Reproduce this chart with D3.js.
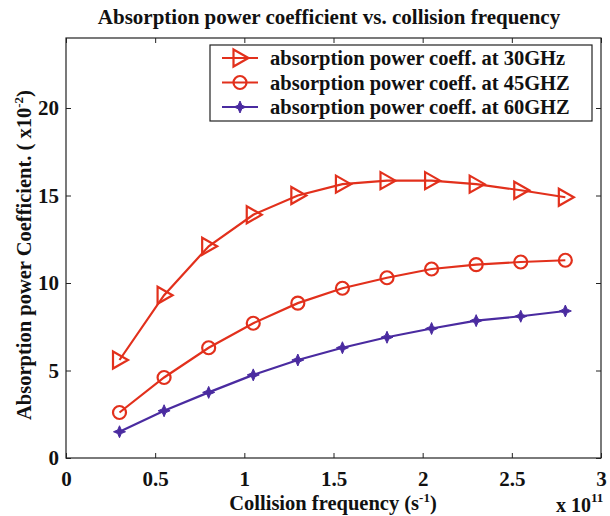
<!DOCTYPE html>
<html>
<head>
<meta charset="utf-8">
<script src="https://cdn.jsdelivr.net/npm/d3@7"></script>
<style>
  body { margin: 0; background: #fff; }
  svg text { font-family: "Liberation Serif", "Times New Roman", serif; font-weight: bold; fill: #111; }
</style>
</head>
<body>
<div id="chart"></div>
<script>
// collision frequency (x 10^11 s^-1)
const freq = [0.3, 0.55, 0.8, 1.05, 1.3, 1.55, 1.8, 2.05, 2.3, 2.55, 2.8];
// absorption power coefficient (x 10^-2)
const coeff30 = [5.6, 9.3, 12.1, 13.9, 15.0, 15.65, 15.85, 15.85, 15.65, 15.3, 14.9];
const coeff45 = [2.6, 4.6, 6.3, 7.7, 8.85, 9.7, 10.3, 10.8, 11.05, 11.2, 11.3];
const coeff60 = [1.5, 2.7, 3.75, 4.75, 5.6, 6.3, 6.9, 7.4, 7.85, 8.1, 8.4];
const seriesNames = ["absorption power coeff. at 30GHz", "absorption power coeff. at 45GHZ", "absorption power coeff. at 60GHZ"];
const xTicks = [0, 0.5, 1, 1.5, 2, 2.5, 3];
const yTicks = [0, 5, 10, 15, 20];

const red = "#e2301c", purple = "#4a2ba0";
const series = [
  { name: seriesNames[0], values: coeff30, color: red, marker: "tri" },
  { name: seriesNames[1], values: coeff45, color: red, marker: "circle" },
  { name: seriesNames[2], values: coeff60, color: purple, marker: "star" }
];

const W = 610, H = 516;
const margin = { top: 38, right: 9, bottom: 58, left: 66 };
const width = W - margin.left - margin.right;
const height = H - margin.top - margin.bottom;

const svg = d3.select("#chart").append("svg").attr("width", W).attr("height", H);
const g = svg.append("g").attr("transform", `translate(${margin.left},${margin.top})`);

const x = d3.scaleLinear().domain([0, 3]).range([0, width]);
const y = d3.scaleLinear().domain([0, 24]).range([height, 0]);

// frame
g.append("rect").attr("width", width).attr("height", height)
  .attr("fill", "none").attr("stroke", "#222").attr("stroke-width", 1.2);

// axes (ticks inward, MATLAB style)
const fmtX = d => d === 0 ? "0" : String(d);
g.append("g").attr("transform", `translate(0,${height})`)
  .call(d3.axisBottom(x).tickValues(xTicks).tickSize(-5).tickPadding(13).tickFormat(fmtX))
  .call(a => a.select(".domain").remove());
g.append("g")
  .call(d3.axisTop(x).tickValues(xTicks).tickSize(-5).tickFormat(""))
  .call(a => a.select(".domain").remove());
g.append("g")
  .call(d3.axisLeft(y).tickValues(yTicks).tickSize(-5).tickPadding(7))
  .call(a => a.select(".domain").remove());
g.append("g").attr("transform", `translate(${width},0)`)
  .call(d3.axisRight(y).tickValues(yTicks).tickSize(-5).tickFormat(""))
  .call(a => a.select(".domain").remove());
g.selectAll(".tick line").attr("stroke", "#222");
g.selectAll(".tick text").style("font-size", "21px").attr("fill", "#111")
  .style("font-family", "'Liberation Serif', serif").style("font-weight", "bold");

// lines
const line = d3.line().x((d, i) => x(freq[i])).y(d => y(d));

function drawMarker(sel, type, color) {
  if (type === "tri") {
    sel.append("path").attr("d", "M-6.5,-8.5 L8.5,0 L-6.5,8.5 Z")
      .attr("fill", "none").attr("stroke", color).attr("stroke-width", 2.2);
  } else if (type === "circle") {
    sel.append("circle").attr("r", 6.5)
      .attr("fill", "none").attr("stroke", color).attr("stroke-width", 2.2);
  } else {
    sel.append("path").attr("d", "M0,-6 L1.8,-1.8 L6,0 L1.8,1.8 L0,6 L-1.8,1.8 L-6,0 L-1.8,-1.8 Z")
      .attr("fill", color).attr("stroke", color).attr("stroke-width", 1);
  }
}

series.forEach(s => {
  g.append("path").datum(s.values)
    .attr("d", line).attr("fill", "none")
    .attr("stroke", s.color).attr("stroke-width", 2.2);
  g.selectAll(null).data(s.values).join("g")
    .attr("transform", (d, i) => `translate(${x(freq[i])},${y(d)})`)
    .each(function () { drawMarker(d3.select(this), s.marker, s.color); });
});

// legend
const lg = svg.append("g").attr("transform", "translate(210,45)");
lg.append("rect").attr("width", 382).attr("height", 76)
  .attr("fill", "#fff").attr("stroke", "#222").attr("stroke-width", 1.2);
series.forEach((s, i) => {
  const row = lg.append("g").attr("transform", `translate(0,${13 + i * 24.5})`);
  row.append("line").attr("x1", 12).attr("x2", 48)
    .attr("stroke", s.color).attr("stroke-width", 2.2);
  drawMarker(row.append("g").attr("transform", "translate(30,0)"), s.marker, s.color);
  row.append("text").attr("x", 60).attr("y", 7).style("font-size", "20.5px").text(s.name);
});

// title
svg.append("text").attr("x", 329).attr("y", 24).attr("text-anchor", "middle")
  .style("font-size", "21px").text("Absorption power coefficient vs. collision frequency");

// x label
const xl = svg.append("text").attr("x", 333).attr("y", 510).attr("text-anchor", "middle")
  .style("font-size", "20.5px");
xl.append("tspan").text("Collision frequency (s");
xl.append("tspan").attr("dy", -8).style("font-size", "13px").text("-1");
xl.append("tspan").attr("dy", 8).text(")");

// x multiplier
const xm = svg.append("text").attr("x", 556).attr("y", 512).style("font-size", "20px");
xm.append("tspan").text("x 10");
xm.append("tspan").attr("dy", -10).style("font-size", "13px").text("11");

// y label
const yl = svg.append("text").attr("transform", "translate(31,255) rotate(-90)")
  .attr("text-anchor", "middle").style("font-size", "20.5px");
yl.append("tspan").text("Absorption power Coefficient. ( x10");
yl.append("tspan").attr("dy", -8).style("font-size", "13px").text("-2");
yl.append("tspan").attr("dy", 8).text(")");
</script>
</body>
</html>
